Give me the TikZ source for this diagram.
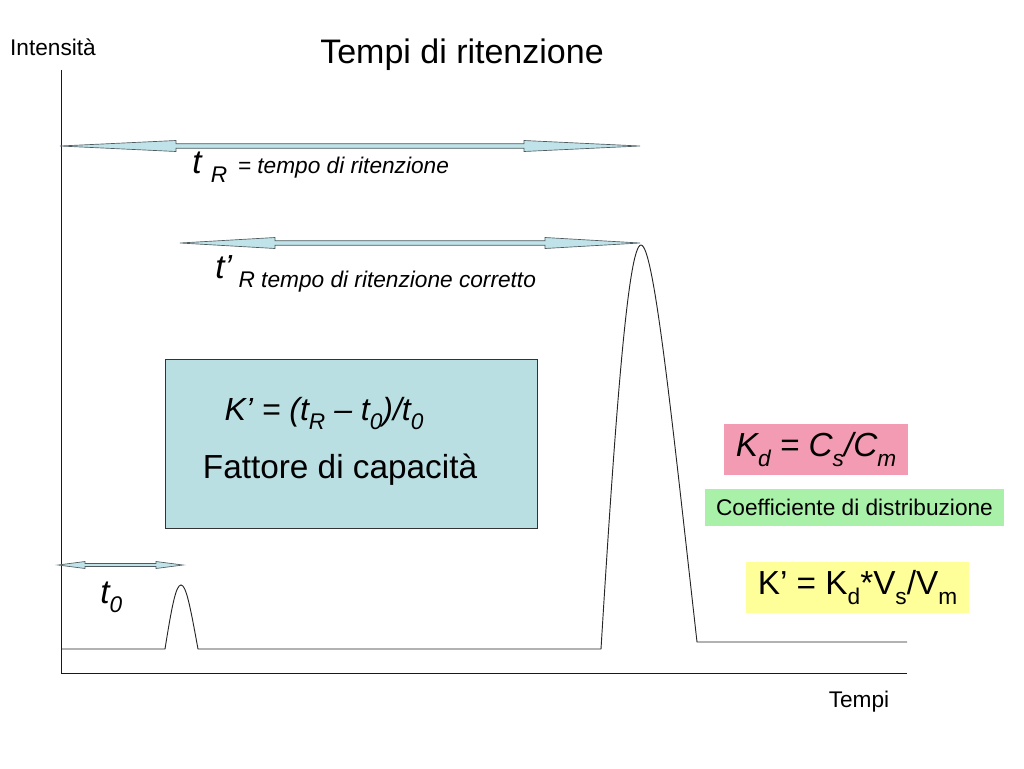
\documentclass[tikz,border=0pt]{standalone}
\usepackage{fontspec}
\setmainfont{Liberation Sans}
\usetikzlibrary{calc,positioning}

\definecolor{capfill}{HTML}{B9DFE3}
\definecolor{kdpink}{HTML}{F29BB2}
\definecolor{coefgreen}{HTML}{A9F0A9}
\definecolor{kyellow}{HTML}{FFFF99}
\definecolor{arrfill}{HTML}{BFE3E8}
\definecolor{arrline}{HTML}{4F5B60}

\tikzset{
  small/.style={font=\fontsize{17}{20}\selectfont, inner sep=0pt},
  big/.style={font=\fontsize{25}{30}\selectfont, inner sep=0pt},
  axis/.style={draw=black!90, line width=0.7pt},
  trace/.style={draw=black!85, line width=0.7pt},
  blkarrow/.style={fill=arrfill, draw=arrline, line width=0.5pt},
  colbox/.style={inner sep=0pt, minimum height=38.25pt}
}

% lowered subscript as in the slides
\newcommand{\lowsub}[1]{\raisebox{-0.3em}{\fontsize{17}{20}\selectfont #1}}

% start, end, head length, head half width
\newcommand{\blkarrow}[4]{%
  \filldraw[blkarrow] (#1) -- ($(#1)+(#3,-#4)$) -- ($(#1)+(#3,{-0.42*#4})$)
    -- ($(#2)+(-#3,{-0.42*#4})$) -- ($(#2)+(-#3,-#4)$) -- (#2)
    -- ($(#2)+(-#3,#4)$) -- ($(#2)+(-#3,{0.42*#4})$)
    -- ($(#1)+(#3,{0.42*#4})$) -- ($(#1)+(#3,#4)$) -- cycle;}

\begin{document}
\begin{tikzpicture}[x=0.75pt,y=-0.75pt]
  \useasboundingbox (0,0) rectangle (1024,768);

  % axes
  \coordinate (ytop) at (61,70);
  \coordinate (O) at (61,673);
  \coordinate (xend) at (907,673);
  \draw[axis] (ytop) -- (O) -- (xend);
  \node[small] (yname) at (53,47) {Intensità};
  \node[small] (xname) at (859,702) {Tempi};
  \node[big, font=\fontsize{25.5}{30}\selectfont] (title) at (462,55) {Tempi di ritenzione};

  % chromatogram
  \draw[trace] (61,649) -- (165,649)
    .. controls (172,605) and (176,585) .. (181,585)
    .. controls (186,585) and (190,605) .. (198,649) -- (601,649)
    .. controls (615,420) and (628,245) .. (641,245)
    .. controls (654,245) and (672,420) .. (697,642) -- (907,642);

  % retention arrows
  \coordinate (tRa) at (60,146);
  \coordinate (tRb) at (640,146);
  \coordinate (tRca) at (180,243);
  \coordinate (tRcb) at (640,243);
  \coordinate (t0a) at (58,565);
  \coordinate (t0b) at (183,565);
  \blkarrow{tRa}{tRb}{116}{5.5}
  \blkarrow{tRca}{tRcb}{95}{5.5}
  \blkarrow{t0a}{t0b}{27}{3.5}

  \node[small, anchor=base west, font=\fontsize{17}{20}\selectfont\itshape] (tR) at (192,173)
    {{\fontsize{25}{30}\selectfont t}\hspace{7pt}\raisebox{-6.75pt}{R}\hspace{8pt}= tempo di ritenzione};
  \node[small, anchor=base west, font=\fontsize{17}{20}\selectfont\itshape] (tRc) at (215,278)
    {{\fontsize{25}{30}\selectfont t’}\hspace{5pt}\raisebox{-6.75pt}{R tempo di ritenzione corretto}};
  \node[big, anchor=base west, font=\fontsize{25}{30}\selectfont\itshape] (t0) at (100,603)
    {t\raisebox{-6.75pt}{\fontsize{17}{20}\selectfont 0}};

  % capacity factor
  \node[draw=black!80, fill=capfill, line width=0.6pt, minimum width=279pt, minimum height=126.75pt] (capbox) at (351,443.5) {};
  \node[big, font=\fontsize{24}{30}\selectfont\itshape, anchor=base] (kform) at (324,420)
    {K’ = (t\lowsub{R} – t\lowsub{0})/t\lowsub{0}};
  \node[big, anchor=base] (capname) at (340,478) {Fattore di capacità};

  % distribution
  \node[colbox, fill=kdpink, minimum width=138pt, font=\fontsize{25}{30}\selectfont\itshape] (kd) at (816,449.5)
    {K\lowsub{d} = C\lowsub{s}/C\lowsub{m}};
  \node[colbox, fill=coefgreen, minimum width=224.25pt, minimum height=27.75pt, font=\fontsize{17}{20}\selectfont] (coef) at (854.5,507.5)
    {Coefficiente di distribuzione};
  \node[colbox, fill=kyellow, minimum width=167.25pt, font=\fontsize{25}{30}\selectfont] (kprime) at (857.5,587.5)
    {K’ = K\lowsub{d}*V\lowsub{s}/V\lowsub{m}};
\end{tikzpicture}
\end{document}
